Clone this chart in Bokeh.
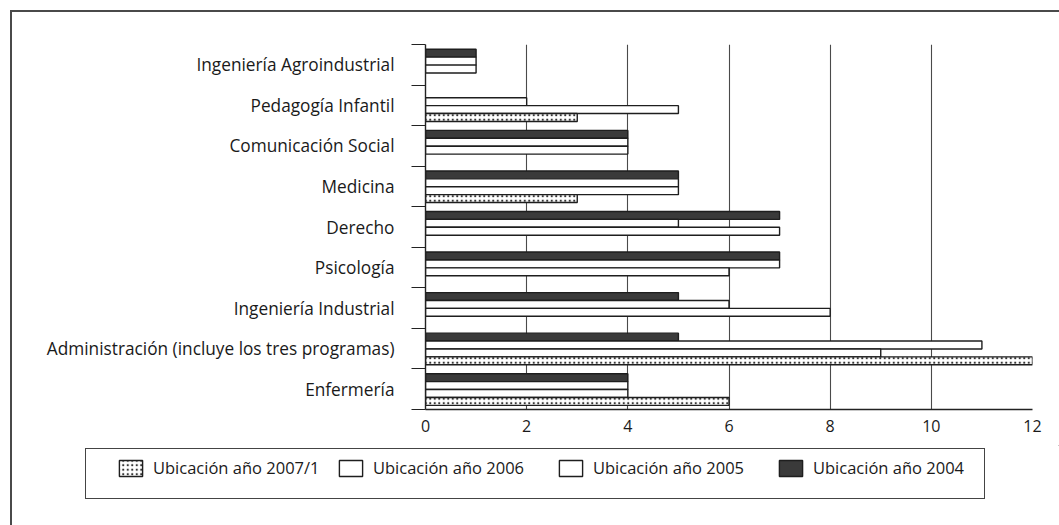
from bokeh.plotting import figure
from bokeh.layouts import column
from bokeh.models import (ColumnDataSource, FixedTicker, Legend, LegendItem,
                          InlineStyleSheet)
from bokeh.embed import file_html
from bokeh.resources import INLINE

# ---- data (categories listed top to bottom) ----
categories = [
    "Ingeniería Agroindustrial",
    "Pedagogía Infantil",
    "Comunicación Social",
    "Medicina",
    "Derecho",
    "Psicología",
    "Ingeniería Industrial",
    "Administración (incluye los tres programas)",
    "Enfermería",
]
ubic_2004 = [1, 0, 4, 5, 7, 7, 5, 5, 4]
ubic_2005 = [1, 2, 4, 5, 5, 7, 6, 11, 4]
ubic_2006 = [1, 5, 4, 5, 7, 6, 8, 9, 4]
ubic_2007_1 = [0, 3, 0, 3, 0, 0, 0, 12, 6]
x_ticks = [0, 2, 4, 6, 8, 10, 12]

series = [
    # name, values, offset within slot, style
    ("Ubicación año 2004", ubic_2004, 0.285,
     dict(fill_color="#3a3a3a", hatch_pattern=None)),
    ("Ubicación año 2005", ubic_2005, 0.09,
     dict(fill_color="white", hatch_pattern=None)),
    ("Ubicación año 2006", ubic_2006, -0.105,
     dict(fill_color="white", hatch_pattern=None)),
    ("Ubicación año 2007/1", ubic_2007_1, -0.30,
     dict(fill_color="white", hatch_pattern="dot", hatch_color="#333333",
          hatch_scale=4.5, hatch_weight=1.0)),
]
bar_line = dict(line_color="#1e1e1e", line_width=1.4)

n = len(categories)
W = 1059
H_MAIN, H_LEG = 445, 80

css_main = """
:host { position: relative; overflow: visible; }
:host::after { content: ""; position: absolute; left: 10px; top: 10px;
  right: -20px; bottom: -200px; border-top: 2px solid #4a4a4a;
  border-left: 2px solid #4a4a4a; pointer-events: none; z-index: 5; }
"""
css_leg = """
:host { position: relative; overflow: hidden; }
:host::before { content: ""; position: absolute; left: 85px; top: 3px;
  width: 900px; height: 51px; border: 1px solid #444444;
  pointer-events: none; z-index: 5; }
:host::after { content: ""; position: absolute; left: 10px; top: 0px;
  width: 0px; bottom: 0px; border-left: 2px solid #4a4a4a;
  pointer-events: none; z-index: 5; }
"""

p = figure(width=W, height=H_MAIN, output_backend="svg", toolbar_location=None,
           x_range=(0, 12), y_range=(0, n),
           min_border_left=425, min_border_right=27,
           min_border_top=44, min_border_bottom=H_MAIN - 409,
           stylesheets=[InlineStyleSheet(css=css_main)])
p.frame_align = False
p.outline_line_color = None
p.background_fill_color = "white"
p.border_fill_color = "white"

for name, vals, off, style in series:
    ys, xs = [], []
    for i, v in enumerate(vals):
        if v > 0:
            ys.append((n - 1 - i) + 0.5 + off)
            xs.append(v)
    src = ColumnDataSource(dict(y=ys, right=xs))
    p.hbar(y="y", left=0, right="right", height=0.195, source=src,
           **bar_line, **style)

# ---- axes ----
xa = p.xaxis[0]
xa.ticker = FixedTicker(ticks=x_ticks)
xa.major_tick_line_color = None
xa.major_tick_out = 0
xa.minor_tick_line_color = None
xa.axis_line_color = "#222222"
xa.axis_line_width = 1.4
xa.major_label_standoff = 10
xa.major_label_text_font = "Open Sans"
xa.major_label_text_font_size = "16px"
xa.major_label_text_color = "#1a1a1a"

ya = p.yaxis[0]
centers = [(n - 1 - i) + 0.5 for i in range(n)]
ya.ticker = FixedTicker(ticks=centers, minor_ticks=list(range(n + 1)))
ya.major_label_overrides = {c: categories[i] for i, c in enumerate(centers)}
ya.major_tick_line_color = None
ya.major_tick_out = 0
ya.minor_tick_in = 0
ya.minor_tick_out = 14
ya.minor_tick_line_color = "#222222"
ya.minor_tick_line_width = 1.2
ya.axis_line_color = "#222222"
ya.axis_line_width = 1.4
ya.major_label_standoff = 17
ya.major_label_text_font = "Open Sans"
ya.major_label_text_font_size = "17.25px"
ya.major_label_text_color = "#1a1a1a"

p.xgrid.ticker = FixedTicker(ticks=x_ticks[1:])
p.xgrid.grid_line_color = "#4a4a4a"
p.xgrid.grid_line_width = 1.1
p.ygrid.grid_line_color = None

# ---- legend (separate strip below the chart) ----
pl = figure(width=W, height=H_LEG, output_backend="svg", toolbar_location=None,
            x_range=(0, 1), y_range=(0, 1), x_axis_type=None, y_axis_type=None,
            min_border=0, min_border_left=0, min_border_right=0,
            min_border_top=0, min_border_bottom=0,
            stylesheets=[InlineStyleSheet(css=css_leg)])
pl.frame_align = False
pl.outline_line_color = None
pl.xgrid.visible = False
pl.ygrid.visible = False
pl.border_fill_color = "white"
pl.background_fill_color = "white"

# proxy renderers (placed far outside the visible range) that only feed the legend
leg_renderers = {}
for name, vals, off, style in series:
    leg_renderers[name] = pl.hbar(y=[50], left=[50], right=[51], height=0.2,
                                  **bar_line, **style)

order = ["Ubicación año 2007/1", "Ubicación año 2006",
         "Ubicación año 2005", "Ubicación año 2004"]
legend = Legend(items=[LegendItem(label=nm, renderers=[leg_renderers[nm]]) for nm in order],
                orientation="horizontal", location=(116, 46),
                glyph_width=29, glyph_height=20, label_standoff=8,
                label_width=170, spacing=13, padding=0, margin=0,
                border_line_alpha=0, background_fill_alpha=0,
                label_text_font="Open Sans", label_text_font_size="16.5px",
                label_text_color="#1a1a1a")
pl.add_layout(legend)

layout = column(p, pl, spacing=0)
open("out.html", "w").write(file_html(layout, INLINE))
